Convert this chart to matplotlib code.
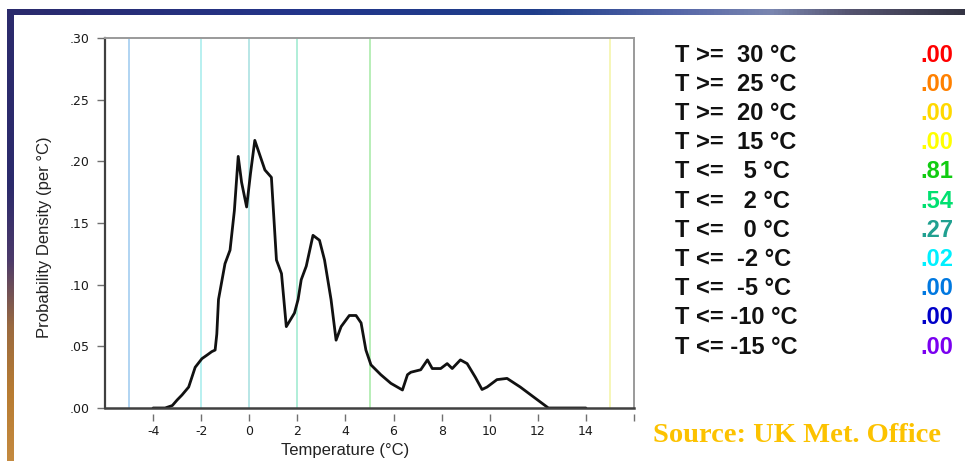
import numpy as np
import matplotlib
matplotlib.use("Agg")
import matplotlib.pyplot as plt
from matplotlib.colors import LinearSegmentedColormap, to_rgb

# Probability density of temperature (per degree C)
temp_c = [-4.0, -3.5, -3.2, -3.0, -2.8, -2.52, -2.25, -1.97, -1.75, -1.56, -1.42,
          -1.35, -1.28, -1.01, -0.80, -0.62, -0.46, -0.32, -0.11, 0.05, 0.23, 0.44,
          0.65, 0.92, 1.13, 1.34, 1.54, 1.88, 2.03, 2.16, 2.37, 2.65, 2.92, 3.13,
          3.40, 3.61, 3.82, 4.16, 4.44, 4.65, 4.85, 5.06, 5.47, 5.89, 6.37, 6.58,
          6.72, 7.13, 7.41, 7.61, 7.96, 8.23, 8.44, 8.78, 9.06, 9.40, 9.68, 9.89,
          10.30, 10.72, 11.27, 11.82, 12.44, 14.0]
density = [0.0, 0.0, 0.002, 0.0065, 0.0105, 0.017, 0.033, 0.040, 0.043, 0.0457, 0.047,
           0.060, 0.088, 0.117, 0.128, 0.160, 0.204, 0.183, 0.163, 0.190, 0.217, 0.205,
           0.193, 0.187, 0.120, 0.109, 0.066, 0.077, 0.088, 0.104, 0.115, 0.140, 0.136, 0.120,
           0.088, 0.055, 0.066, 0.075, 0.075, 0.069, 0.047, 0.035, 0.027, 0.020, 0.0146, 0.027,
           0.029, 0.031, 0.039, 0.032, 0.032, 0.036, 0.032, 0.039, 0.036, 0.025, 0.015, 0.017,
           0.023, 0.024, 0.017, 0.009, 0.0, 0.0]

# Exceedance / non-exceedance probabilities
thresh_ops = [">=", ">=", ">=", ">=", "<=", "<=", "<=", "<=", "<=", "<=", "<="]
thresh_vals = [30, 25, 20, 15, 5, 2, 0, -2, -5, -10, -15]
thresh_probs = [".00", ".00", ".00", ".00", ".81", ".54", ".27", ".02", ".00", ".00", ".00"]
thresh_colors = ["#ff0000", "#ff8000", "#ffd800", "#ffff00", "#11cc11", "#00e070",
                 "#20a090", "#00f0ff", "#0078e0", "#0000c8", "#7a00f0"]
# Pale tints used for the threshold markers inside the plot
line_colors = {15: "#f6f6b8", 5: "#b8eeb8", 2: "#b0eed8", 0: "#b8e6e6",
               -2: "#b8f0f0", -5: "#b0d4f2"}

x_ticks = [-4, -2, 0, 2, 4, 6, 8, 10, 12, 14, 16]
x_tick_labels = ["-4", "-2", "0", "2", "4", "6", "8", "10", "12", "14", ""]
y_ticks = [0.0, 0.05, 0.10, 0.15, 0.20, 0.25, 0.30]
y_tick_labels = [".00", ".05", ".10", ".15", ".20", ".25", ".30"]

W, H = 965, 461
fig = plt.figure(figsize=(W / 100, H / 100), dpi=100)
fig.patch.set_facecolor("white")


def fx(px):
    return px / W


def fy(py):
    return 1 - py / H


# Slide frame: top band and left band with colour gradients
top_cmap = LinearSegmentedColormap.from_list(
    "top", [(0.0, "#2b2a6c"), (0.3, "#23358a"), (0.55, "#1f3e8a"),
            (0.7, "#5566a8"), (0.8, "#7a86b0"), (0.88, "#555470"), (1.0, "#343444")])
ax_top = fig.add_axes([fx(7), fy(15), fx(W - 7), (15 - 9) / H])
ax_top.imshow(np.linspace(0, 1, 256)[None, :], aspect="auto", cmap=top_cmap)
ax_top.axis("off")

left_cmap = LinearSegmentedColormap.from_list(
    "left", [(0.0, "#2b2a6c"), (0.38, "#2b2a6c"), (0.55, "#4c3a6a"),
             (0.7, "#9a6a40"), (0.85, "#b87c32"), (1.0, "#c48a40")])
ax_left = fig.add_axes([fx(7), 0, fx(7), fy(15)])
ax_left.imshow(np.linspace(0, 1, 256)[:, None], aspect="auto", cmap=left_cmap)
ax_left.axis("off")

# Main plot
ax = fig.add_axes([fx(105), fy(408), fx(634 - 105), (408 - 38) / H])
ax.set_xlim(-6, 16)
ax.set_ylim(0, 0.30)

for tv in thresh_vals:
    if tv in line_colors:
        ax.axvline(tv, color=line_colors[tv], lw=1.4, zorder=1)

ax.plot(temp_c, density, color="#111111", lw=2.0, zorder=3,
        solid_joinstyle="round", solid_capstyle="round")

ax.spines["left"].set_color("#404040")
ax.spines["left"].set_linewidth(1.6)
for s in ("top", "right"):
    ax.spines[s].set_color("#9a9a9a")
    ax.spines[s].set_linewidth(1.4)
ax.spines["bottom"].set_position(("outward", 4))
ax.spines["bottom"].set_visible(False)
ax.axhline(0, color="#404040", lw=1.8, clip_on=False, zorder=4)

ax.set_xticks(x_ticks)
ax.set_xticklabels(x_tick_labels)
ax.set_yticks(y_ticks)
ax.set_yticklabels(y_tick_labels)
ax.tick_params(axis="x", length=5, width=1, color="#707070", pad=3,
               labelsize=9, labelcolor="#1a1a1a")
ax.tick_params(axis="y", length=6, width=1, color="#707070", pad=5,
               labelsize=9, labelcolor="#1a1a1a")

fig.text(fx(345), fy(450), "Temperature (°C)", ha="center", va="center",
         fontsize=12, family="Liberation Sans", color="#222222")
fig.text(fx(45), fy(237), "Probability Density (per °C)", ha="center", va="center",
         rotation=90, fontsize=12, family="Liberation Sans", color="#222222")

# Threshold probability table
row_y = np.linspace(55, 347, len(thresh_vals))
for op, tv, pr, col, yy in zip(thresh_ops, thresh_vals, thresh_probs, thresh_colors, row_y):
    num = f"{tv}"
    pad = " " * max(1, 4 - len(num))
    fig.text(fx(675), fy(yy), f"T {op}{pad}{num} °C", ha="left", va="center",
             fontsize=17, fontweight="bold", family="Liberation Sans", color="#111111")
    fig.text(fx(953), fy(yy), pr, ha="right", va="center",
             fontsize=17, fontweight="bold", family="Liberation Sans", color=col)

fig.text(fx(653), fy(435), "Source: UK Met. Office", ha="left", va="center",
         fontsize=20.5, fontweight="bold", family="Liberation Serif", color="#fcc200")

fig.savefig("out.png", dpi=100, facecolor="white")
